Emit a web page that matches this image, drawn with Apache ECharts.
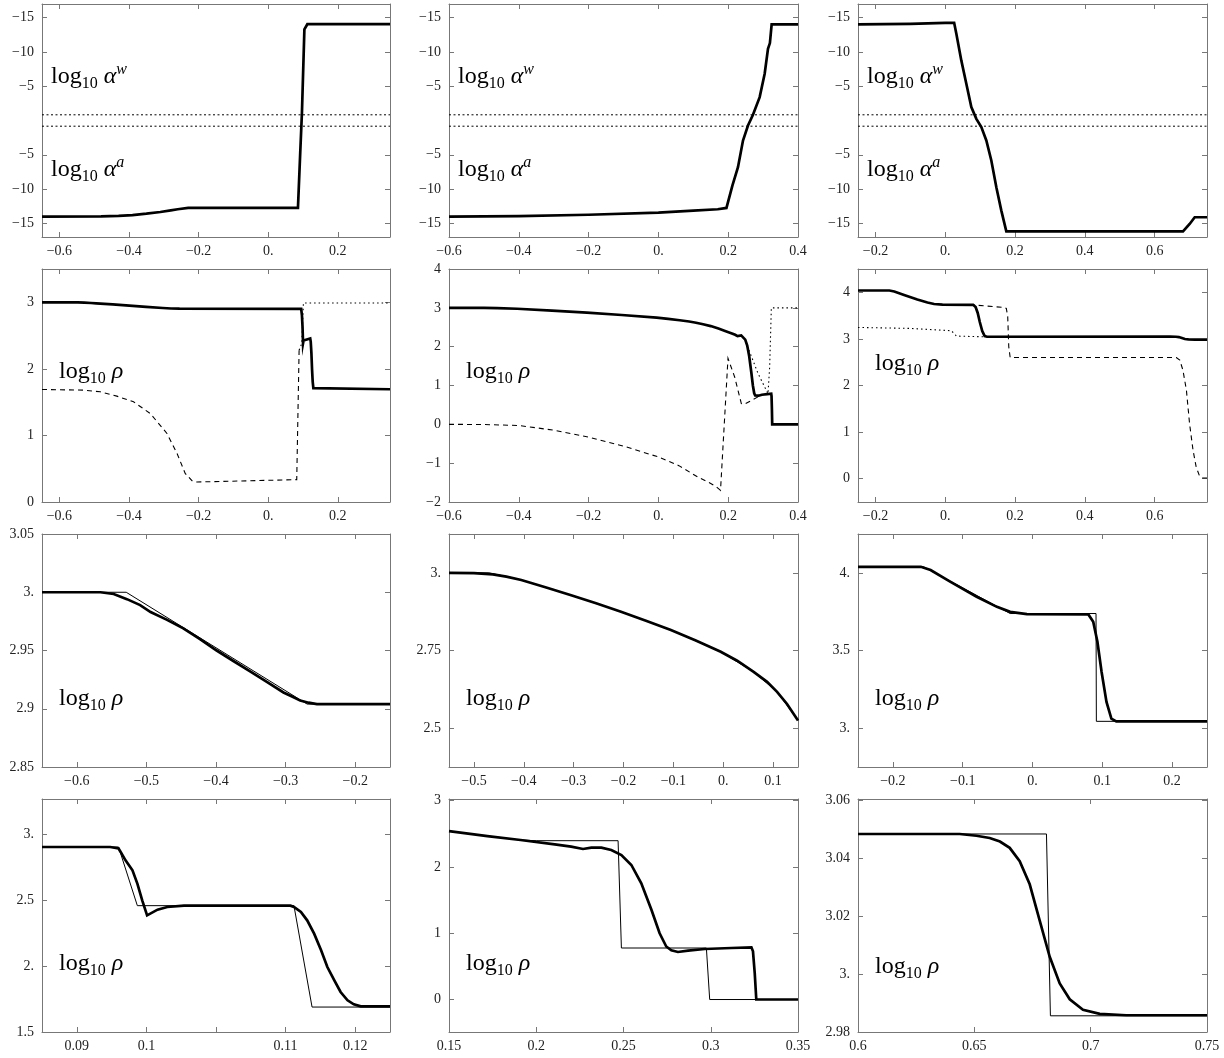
<!DOCTYPE html>
<html>
<head>
<meta charset="UTF-8">
<title>log10 rho panels</title>
<script src="https://cdn.jsdelivr.net/npm/echarts@6/dist/echarts.min.js"></script>
<style>
  body { margin: 0; background: #fff; }
  #main { width: 1224px; height: 1058px; }
</style>
</head>
<body>
<div id="main"></div>
<script>
// ---------- data ----------
// row 1: upper half shows -log10 alpha^w, lower half log10 alpha^a
var alphaLeft = [[-0.65,-14.03],[-0.48,-14.0],[-0.43,-13.93],[-0.39,-13.8],[-0.35,-13.6],[-0.31,-13.35],[-0.28,-13.12],[-0.26,-12.95],[-0.23,-12.76],[0.0855,-12.76],[0.0922,-4.5],[0.097,1.2],[0.104,13.3],[0.109,13.3],[0.1125,14.05],[0.35,14.05]];
var alphaMid = [[-0.6,-14.03],[-0.4,-13.95],[-0.2,-13.75],[0,-13.45],[0.1,-13.15],[0.17,-12.95],[0.195,-12.76],[0.212,-9.5],[0.228,-6.82],[0.2424,-2.92],[0.2567,-0.73],[0.271,0.83],[0.2902,3.41],[0.3045,6.82],[0.314,10.47],[0.3195,11.3],[0.3236,11.3],[0.3245,14.03],[0.4,14.03]];
var alphaRight = [[-0.25,14.03],[-0.1,14.1],[0.0,14.25],[0.0255,14.25],[0.0318,12.66],[0.046,8.77],[0.0604,5.36],[0.0747,1.95],[0.0891,0.24],[0.1034,-0.97],[0.1177,-2.92],[0.132,-5.84],[0.1464,-9.74],[0.1607,-13.15],[0.175,-16.17],[0.6812,-16.17],[0.7003,-15.1],[0.7147,-14.12],[0.75,-14.12]];
var alphaGuide = [0.83, -0.83];

// row 2: log10 rho, mixture (thick), phase a (dashed), phase w (dotted)
var rho21Mix = [[-0.65,3.0],[-0.566,3.0],[-0.547,2.9985],[-0.528,2.994],[-0.509,2.989],[-0.494,2.983],[-0.447,2.969],[-0.399,2.95],[-0.351,2.932],[-0.303,2.914],[-0.279,2.907],[-0.255,2.904],[0.0948,2.9015],[0.097,2.80],[0.0987,2.624],[0.1001,2.384],[0.1016,2.427],[0.103,2.447],[0.1054,2.457],[0.1207,2.457],[0.1222,2.409],[0.1241,2.245],[0.126,1.992],[0.1279,1.803],[0.1298,1.71],[0.1308,1.694],[0.35,1.694]];
var rho21Dash = [[-0.65,1.69],[-0.53,1.68],[-0.4825,1.655],[-0.435,1.59],[-0.387,1.505],[-0.339,1.33],[-0.291,1.03],[-0.262,0.73],[-0.2385,0.43],[-0.219,0.32],[-0.205,0.30],[0.082,0.336],[0.0855,0.34],[0.0888,2.28]];
var rho21Dot = [[0.0888,2.28],[0.0964,2.38],[0.1012,2.99],[0.35,2.99]];

var rho22Mix = [[-0.6,3.0],[-0.5,2.998],[-0.462,2.994],[-0.405,2.977],[-0.305,2.928],[-0.205,2.875],[-0.105,2.816],[-0.005,2.746],[0.028,2.717],[0.061,2.681],[0.088,2.649],[0.108,2.617],[0.128,2.578],[0.15,2.53],[0.172,2.466],[0.191,2.406],[0.2106,2.341],[0.22,2.306],[0.2268,2.271],[0.2316,2.291],[0.2373,2.291],[0.243,2.256],[0.2488,2.18],[0.2545,2.03],[0.2602,1.754],[0.266,1.353],[0.2707,1.0],[0.2745,0.8],[0.2774,0.742],[0.2812,0.717],[0.287,0.737],[0.2965,0.762],[0.3118,0.777],[0.3233,0.787],[0.3242,0.727],[0.3252,0.4],[0.3261,0],[0.4,0]];
var rho22Dash = [[-0.6,0],[-0.5,-0.005],[-0.4,-0.03],[-0.3,-0.15],[-0.2,-0.33],[-0.1,-0.56],[0,-0.84],[0.06,-1.07],[0.1135,-1.36],[0.145,-1.5],[0.166,-1.61],[0.178,-1.70],[0.1994,1.70],[0.2185,1.22],[0.2376,0.535],[0.247,0.52],[0.2854,0.707]];
var rho22Dot = [[0.2596,1.91],[0.2854,1.31],[0.2997,1.05],[0.314,0.79],[0.3188,1.48],[0.3236,3.0],[0.4,3.0]];

var rho23Mix = [[-0.25,4.039],[-0.16,4.039],[-0.146,4.018],[-0.118,3.943],[-0.08,3.846],[-0.051,3.781],[-0.032,3.749],[-0.008,3.734],[0.08,3.732],[0.087,3.685],[0.093,3.556],[0.099,3.362],[0.106,3.169],[0.113,3.061],[0.12,3.046],[0.6437,3.048],[0.661,3.046],[0.6695,3.039],[0.6781,3.0185],[0.6867,2.997],[0.6967,2.988],[0.7153,2.986],[0.75,2.986]];
var rho23Dash = [[0.07,3.735],[0.165,3.676],[0.175,3.655],[0.179,3.476],[0.182,2.83],[0.186,2.602],[0.662,2.602],[0.672,2.544],[0.681,2.33],[0.691,1.9],[0.70,1.183],[0.71,0.61],[0.719,0.25],[0.729,0.05],[0.738,0.015],[0.75,0.015]];
var rho23Dot = [[-0.25,3.246],[-0.102,3.225],[0.0175,3.175],[0.025,3.12],[0.032,3.06],[0.108,3.046]];

// row 3: close-ups, scheme (thick) and exact solution (thin)
var rho31Mix = [[-0.65,3.0],[-0.566,3.0],[-0.547,2.9985],[-0.528,2.9941],[-0.509,2.989],[-0.494,2.983],[-0.471,2.9765],[-0.447,2.969],[-0.423,2.9598],[-0.399,2.95],[-0.375,2.941],[-0.351,2.932],[-0.327,2.923],[-0.303,2.914],[-0.29,2.9103],[-0.279,2.907],[-0.267,2.9052],[-0.255,2.904],[-0.15,2.904]];
var rho31Exact = [[-0.65,3.0],[-0.529,3.0],[-0.269,2.904],[-0.15,2.904]];
var rho32Mix = [[-0.55,3.0],[-0.5,2.999],[-0.462,2.995],[-0.435,2.988],[-0.405,2.977],[-0.355,2.953],[-0.305,2.928],[-0.255,2.902],[-0.205,2.875],[-0.155,2.846],[-0.105,2.816],[-0.055,2.782],[-0.005,2.746],[0.028,2.717],[0.061,2.681],[0.088,2.649],[0.108,2.617],[0.128,2.578],[0.15,2.525]];
var rho32Exact = [[-0.55,3.0],[-0.47,3.0],[-0.435,2.988],[-0.405,2.977],[-0.305,2.928],[-0.205,2.875],[-0.105,2.816],[-0.005,2.746],[0.061,2.681],[0.108,2.617],[0.15,2.525]];
var rho33Mix = [[-0.25,4.039],[-0.16,4.039],[-0.146,4.018],[-0.118,3.943],[-0.08,3.846],[-0.051,3.781],[-0.032,3.749],[-0.008,3.734],[0.08,3.732],[0.087,3.685],[0.093,3.556],[0.099,3.362],[0.106,3.169],[0.113,3.061],[0.12,3.044],[0.25,3.044]];
var rho33Exact = [[-0.25,4.039],[-0.156,4.039],[-0.032,3.738],[0.091,3.738],[0.0915,3.044],[0.25,3.044]];

// row 4: close-ups around the discontinuities
var rho41Mix = [[0.085,2.9015],[0.0948,2.9015],[0.096,2.89],[0.0963,2.864],[0.097,2.80],[0.098,2.725],[0.0987,2.624],[0.0994,2.4975],[0.1001,2.3838],[0.1016,2.4268],[0.103,2.447],[0.1054,2.457],[0.1207,2.457],[0.1212,2.447],[0.1222,2.409],[0.1231,2.346],[0.1241,2.245],[0.1251,2.119],[0.126,1.992],[0.127,1.891],[0.1279,1.803],[0.1289,1.74],[0.1298,1.71],[0.1308,1.694],[0.135,1.694]];
var rho41Exact = [[0.085,2.9015],[0.096,2.9015],[0.0987,2.457],[0.1212,2.457],[0.1238,1.689],[0.135,1.689]];
var rho42Mix = [[0.15,2.54],[0.172,2.466],[0.191,2.406],[0.2106,2.341],[0.22,2.306],[0.2268,2.271],[0.2316,2.291],[0.2373,2.291],[0.243,2.256],[0.2488,2.18],[0.2545,2.03],[0.2602,1.754],[0.266,1.353],[0.2707,1.0],[0.2745,0.8],[0.2774,0.742],[0.2812,0.717],[0.287,0.737],[0.2965,0.762],[0.3118,0.777],[0.3233,0.787],[0.3242,0.727],[0.3252,0.4],[0.3261,0],[0.35,0]];
var rho42Exact = [[0.15,2.54],[0.172,2.466],[0.191,2.406],[0.2,2.396],[0.2469,2.396],[0.2488,0.777],[0.2975,0.777],[0.2994,0],[0.35,0]];
var rho43Mix = [[0.6,3.0485],[0.6437,3.0485],[0.6509,3.0479],[0.6566,3.0471],[0.661,3.0459],[0.6652,3.0437],[0.6695,3.0391],[0.6738,3.0311],[0.6781,3.0185],[0.6824,3.006],[0.6867,2.9968],[0.691,2.9913],[0.6967,2.9877],[0.7039,2.9863],[0.7153,2.9858],[0.75,2.9858]];
var rho43Exact = [[0.6,3.0485],[0.681,3.0485],[0.6827,2.9856],[0.75,2.9856]];

// tick values and their labels
var xTicksA = [-0.6,-0.4,-0.2,0,0.2],            xLabelsA = ['−0.6','−0.4','−0.2','0.','0.2'];
var xTicksB = [-0.6,-0.4,-0.2,0,0.2,0.4],        xLabelsB = ['−0.6','−0.4','−0.2','0.','0.2','0.4'];
var xTicksC = [-0.2,0,0.2,0.4,0.6],              xLabelsC = ['−0.2','0.','0.2','0.4','0.6'];
var xTicks31 = [-0.6,-0.5,-0.4,-0.3,-0.2],       xLabels31 = ['−0.6','−0.5','−0.4','−0.3','−0.2'];
var xTicks32 = [-0.5,-0.4,-0.3,-0.2,-0.1,0,0.1], xLabels32 = ['−0.5','−0.4','−0.3','−0.2','−0.1','0.','0.1'];
var xTicks33 = [-0.2,-0.1,0,0.1,0.2],            xLabels33 = ['−0.2','−0.1','0.','0.1','0.2'];
var xTicks41 = [0.09,0.1,0.11,0.12,0.13],        xLabels41 = ['0.09','0.1','','0.11','0.12'];
var xTicks42 = [0.15,0.2,0.25,0.3,0.35],         xLabels42 = ['0.15','0.2','0.25','0.3','0.35'];
var xTicks43 = [0.6,0.65,0.7,0.75],              xLabels43 = ['0.6','0.65','0.7','0.75'];

var yTicksAlpha = [-15,-10,-5,5,10,15],          yLabelsAlpha = ['−15','−10','−5','−5','−10','−15'];
var yTicks21 = [0,1,2,3],                        yLabels21 = ['0','1','2','3'];
var yTicks22 = [-2,-1,0,1,2,3,4],                yLabels22 = ['−2','−1','0','1','2','3','4'];
var yTicks23 = [0,1,2,3,4],                      yLabels23 = ['0','1','2','3','4'];
var yTicks31 = [2.85,2.9,2.95,3,3.05],           yLabels31 = ['2.85','2.9','2.95','3.','3.05'];
var yTicks32 = [2.5,2.75,3],                     yLabels32 = ['2.5','2.75','3.'];
var yTicks33 = [3,3.5,4],                        yLabels33 = ['3.','3.5','4.'];
var yTicks41 = [1.5,2,2.5,3],                    yLabels41 = ['1.5','2.','2.5','3.'];
var yTicks42 = [0,1,2,3],                        yLabels42 = ['0','1','2','3'];
var yTicks43 = [2.98,3,3.02,3.04,3.06],          yLabels43 = ['2.98','3.','3.02','3.04','3.06'];

// ---------- layout ----------
var SERIF = '"Liberation Serif", "DejaVu Serif", serif';
var FRAME = '#777';
var colLeft = [42, 449, 858], colWidth = [348, 349, 349];
var rowTop = [4, 269, 534, 799], rowHeight = 233;

var styles = {
    thick: {color: '#000', width: 2.7, type: 'solid', z: 5},
    thin:  {color: '#000', width: 1,   type: 'solid', z: 3},
    dash:  {color: '#000', width: 1.1, type: [5, 4],  z: 4},
    dot:   {color: '#000', width: 1.1, type: [1.5, 3], z: 4}
};

var panels = [
    {r:0, c:0, x:[-0.65,0.35], y:[-17,17], xt:xTicksA, xl:xLabelsA, yt:yTicksAlpha, yl:yLabelsAlpha, guide:true, lines:[['thick',alphaLeft]]},
    {r:0, c:1, x:[-0.6,0.4],   y:[-17,17], xt:xTicksB, xl:xLabelsB, yt:yTicksAlpha, yl:yLabelsAlpha, guide:true, lines:[['thick',alphaMid]]},
    {r:0, c:2, x:[-0.25,0.75], y:[-17,17], xt:xTicksC, xl:xLabelsC, yt:yTicksAlpha, yl:yLabelsAlpha, guide:true, lines:[['thick',alphaRight]]},
    {r:1, c:0, x:[-0.65,0.35], y:[0,3.5],   xt:xTicksA, xl:xLabelsA, yt:yTicks21, yl:yLabels21, lines:[['dash',rho21Dash],['dot',rho21Dot],['thick',rho21Mix]]},
    {r:1, c:1, x:[-0.6,0.4],   y:[-2,4],    xt:xTicksB, xl:xLabelsB, yt:yTicks22, yl:yLabels22, lines:[['dash',rho22Dash],['dot',rho22Dot],['thick',rho22Mix]]},
    {r:1, c:2, x:[-0.25,0.75], y:[-0.5,4.5],xt:xTicksC, xl:xLabelsC, yt:yTicks23, yl:yLabels23, lines:[['dash',rho23Dash],['dot',rho23Dot],['thick',rho23Mix]]},
    {r:2, c:0, x:[-0.65,-0.15],y:[2.85,3.05], xt:xTicks31, xl:xLabels31, yt:yTicks31, yl:yLabels31, lines:[['thin',rho31Exact],['thick',rho31Mix]]},
    {r:2, c:1, x:[-0.55,0.15], y:[2.375,3.125], xt:xTicks32, xl:xLabels32, yt:yTicks32, yl:yLabels32, lines:[['thin',rho32Exact],['thick',rho32Mix]]},
    {r:2, c:2, x:[-0.25,0.25], y:[2.75,4.25], xt:xTicks33, xl:xLabels33, yt:yTicks33, yl:yLabels33, lines:[['thin',rho33Exact],['thick',rho33Mix]]},
    {r:3, c:0, x:[0.085,0.135], y:[1.5,3.265], xt:xTicks41, xl:xLabels41, yt:yTicks41, yl:yLabels41, lines:[['thin',rho41Exact],['thick',rho41Mix]]},
    {r:3, c:1, x:[0.15,0.35],  y:[-0.49,3.025], xt:xTicks42, xl:xLabels42, yt:yTicks42, yl:yLabels42, lines:[['thin',rho42Exact],['thick',rho42Mix]]},
    {r:3, c:2, x:[0.6,0.75],   y:[2.98,3.0606], xt:xTicks43, xl:xLabels43, yt:yTicks43, yl:yLabels43, lines:[['thin',rho43Exact],['thick',rho43Mix]]}
];

function labeller(ticks, labels) {
    return function (v) {
        for (var i = 0; i < ticks.length; i++) {
            if (Math.abs(ticks[i] - v) < 1e-9) return labels[i];
        }
        return '';
    };
}

function axis(kind, p, gi, pos, showLabel) {
    var isX = kind === 'x';
    var ticks = isX ? p.xt : p.yt;
    return {
        type: 'value',
        gridIndex: gi,
        position: pos,
        min: isX ? p.x[0] : p.y[0],
        max: isX ? p.x[1] : p.y[1],
        axisLine: {show: true, onZero: false, lineStyle: {color: FRAME, width: 1}},
        axisTick: {show: true, inside: true, length: 5, customValues: ticks, lineStyle: {color: FRAME, width: 1}},
        axisLabel: {
            show: showLabel,
            customValues: ticks,
            formatter: labeller(ticks, isX ? p.xl : p.yl),
            fontFamily: SERIF,
            fontSize: 14,
            color: '#222',
            margin: isX ? 7 : 8
        },
        splitLine: {show: false}
    };
}

var grids = [], xAxes = [], yAxes = [], series = [], graphics = [];

var rich = {
    n: {fontFamily: SERIF, fontSize: 24, lineHeight: 30, fill: '#000'},
    s: {fontFamily: SERIF, fontSize: 16, lineHeight: 12, verticalAlign: 'bottom', fill: '#000'},
    g: {fontFamily: SERIF, fontSize: 24, fontStyle: 'italic', lineHeight: 30, fill: '#000'},
    p: {fontFamily: SERIF, fontSize: 16, fontStyle: 'italic', lineHeight: 12, verticalAlign: 'top', fill: '#000'}
};

function addLabel(text, x, y) {
    graphics.push({type: 'text', x: x, y: y, silent: true,
        style: {text: text, rich: rich, fill: '#000', verticalAlign: 'top', align: 'left'}});
}

panels.forEach(function (p, gi) {
    var left = colLeft[p.c], top = rowTop[p.r];
    grids.push({left: left, top: top, width: colWidth[p.c], height: rowHeight, containLabel: false});
    xAxes.push(axis('x', p, gi, 'bottom', true));
    xAxes.push(axis('x', p, gi, 'top', false));
    yAxes.push(axis('y', p, gi, 'left', true));
    yAxes.push(axis('y', p, gi, 'right', false));
    var xi = gi * 2, yi = gi * 2;

    if (p.guide) {
        alphaGuide.forEach(function (lvl) {
            series.push({type: 'line', xAxisIndex: xi, yAxisIndex: yi, symbol: 'none', silent: true,
                data: [[p.x[0], lvl], [p.x[1], lvl]],
                lineStyle: {color: '#000', width: 1, type: [2, 2.5]}, z: 2});
        });
    }
    p.lines.forEach(function (ln) {
        var st = styles[ln[0]];
        series.push({type: 'line', xAxisIndex: xi, yAxisIndex: yi, symbol: 'none', silent: true,
            data: ln[1], clip: true, z: st.z,
            lineStyle: {color: st.color, width: st.width, type: st.type, cap: 'butt', join: 'miter'}});
    });

    var lx = left + (p.r === 0 ? 9 : 17);
    if (p.r === 0) {
        addLabel('{n|log}{s|10}{g| α}{p|w}', lx, top + 58);
        addLabel('{n|log}{s|10}{g| α}{p|a}', lx, top + 151);
    } else {
        var dy = [0, 88, 150, 150][p.r];
        if (p.c === 2 && p.r === 1) dy = 80;
        if (p.c === 2 && p.r === 3) dy = 153;
        addLabel('{n|log}{s|10}{g| ρ}', lx, top + dy);
    }
});

var chart = echarts.init(document.getElementById('main'), null, {renderer: 'canvas'});
chart.setOption({
    animation: false,
    backgroundColor: '#fff',
    grid: grids,
    xAxis: xAxes,
    yAxis: yAxes,
    series: series,
    graphic: graphics
});
</script>
</body>
</html>
